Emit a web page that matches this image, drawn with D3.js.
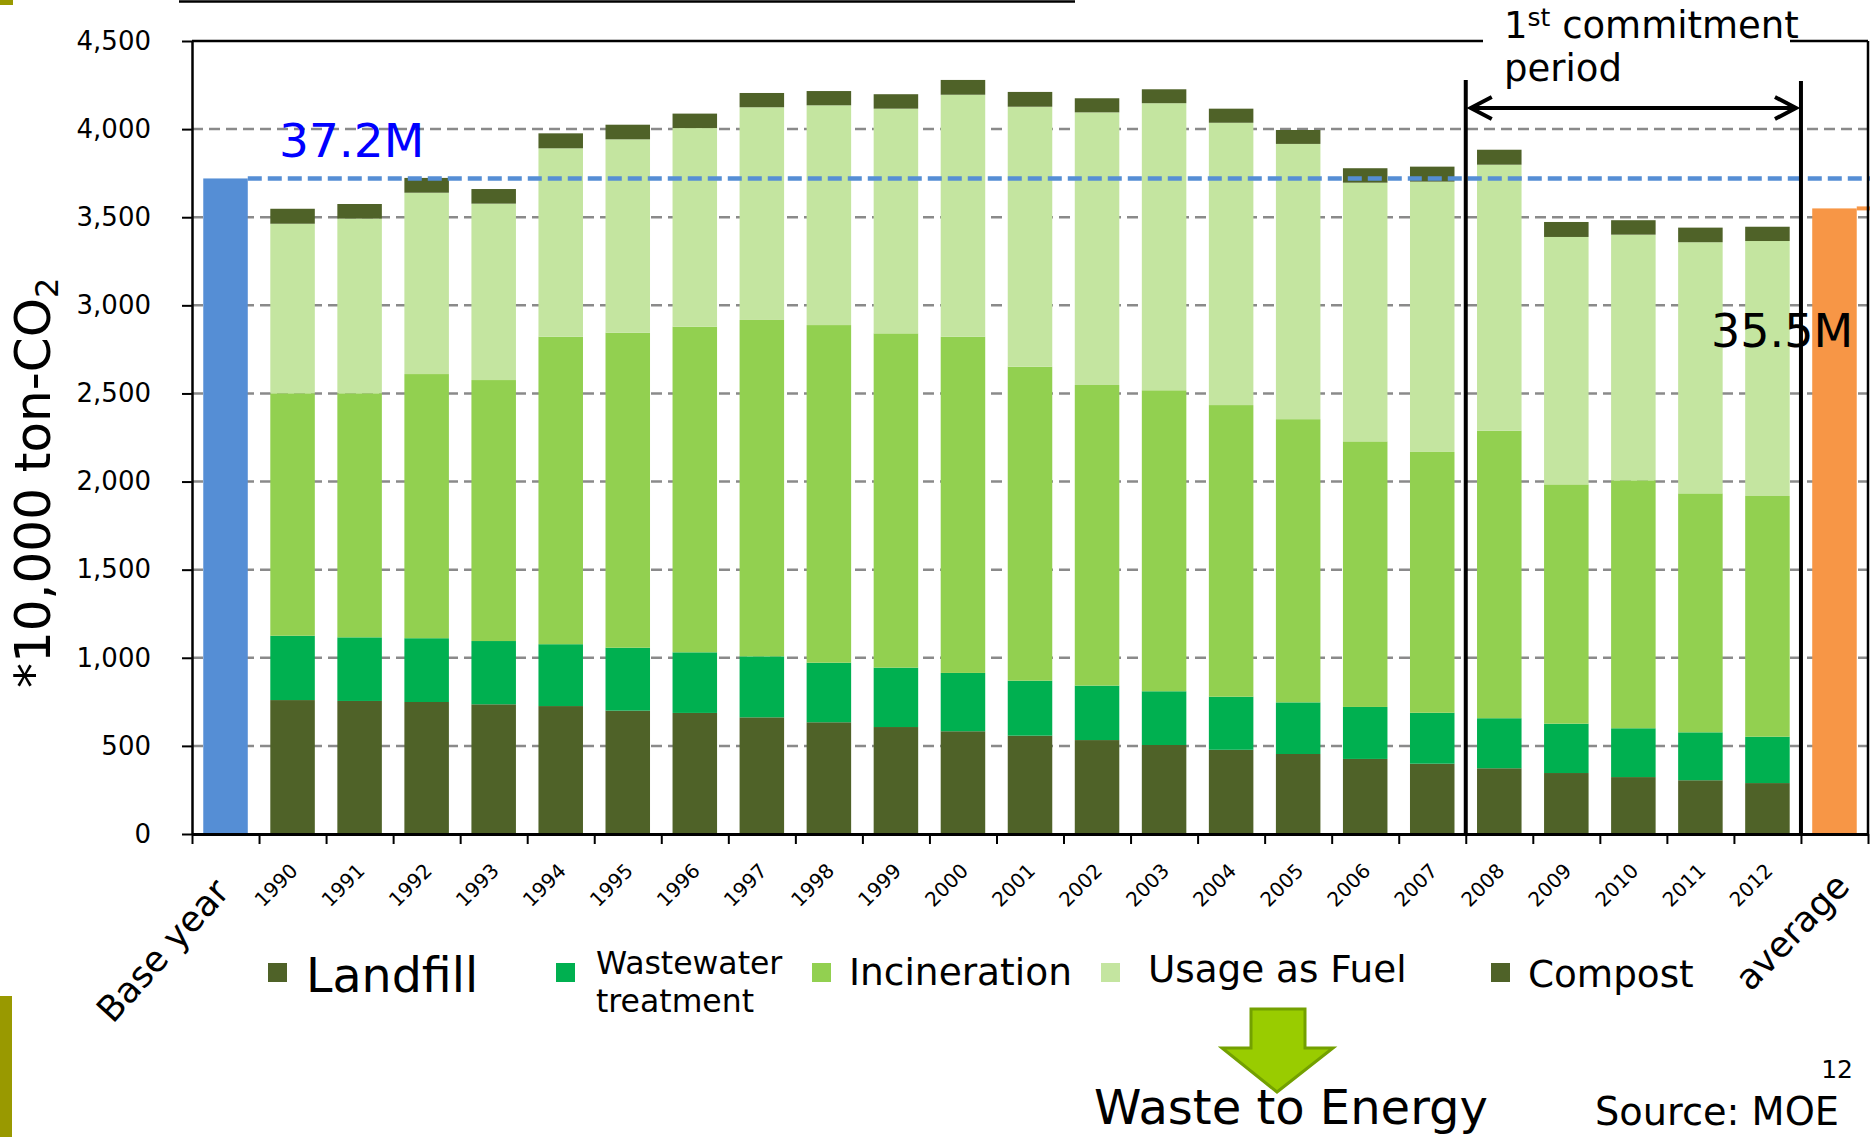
<!DOCTYPE html>
<html>
<head>
<meta charset="utf-8">
<script src="https://cdn.jsdelivr.net/npm/d3@7"></script>
<style>
  html, body { margin: 0; padding: 0; background: #ffffff; }
  svg { display: block; font-family: "DejaVu Sans", Verdana, sans-serif; }
</style>
</head>
<body>
<svg id="chart" width="1870" height="1137"></svg>
<script>
// ---- Data (unit: 10,000 t-CO2) ----
const categories = ["Base year", "1990", "1991", "1992", "1993", "1994", "1995", "1996", "1997", "1998", "1999",
  "2000", "2001", "2002", "2003", "2004", "2005", "2006", "2007", "2008", "2009", "2010", "2011", "2012", "average"];
const years = ["1990", "1991", "1992", "1993", "1994", "1995", "1996", "1997", "1998", "1999",
  "2000", "2001", "2002", "2003", "2004", "2005", "2006", "2007", "2008", "2009", "2010", "2011", "2012"];
const landfill     = [760, 755, 749, 736, 726, 700, 687, 662, 634, 607, 583, 558, 533, 505, 478, 454, 426, 399, 373, 346, 323, 305, 289];
const wastewater   = [365, 361, 362, 359, 351, 357, 344, 346, 338, 337, 331, 312, 309, 305, 301, 293, 295, 289, 284, 280, 277, 272, 263];
const incineration = [1376, 1385, 1499, 1481, 1745, 1788, 1848, 1909, 1916, 1897, 1908, 1782, 1706, 1708, 1655, 1607, 1507, 1480, 1632, 1358, 1407, 1356, 1366];
const usageAsFuel  = [962, 991, 1029, 1001, 1069, 1097, 1127, 1207, 1247, 1275, 1373, 1475, 1547, 1629, 1602, 1562, 1468, 1534, 1509, 1404, 1394, 1425, 1447];
const compost      = [85, 83, 84, 83, 85, 83, 82, 81, 81, 82, 84, 84, 80, 79, 80, 79, 82, 85, 85, 85, 82, 83, 81];
const baseYearTotal = 3720;   // 37.2M t
const periodAverage = 3550;   // 35.5M t, 2008-2012
const yTicks = [0, 500, 1000, 1500, 2000, 2500, 3000, 3500, 4000, 4500];
const seriesNames = ["Landfill", "Wastewater treatment", "Incineration", "Usage as Fuel", "Compost"];
const seriesValues = [landfill, wastewater, incineration, usageAsFuel, compost];

// ---- Styling ----
const seriesColors = ["#4f6228", "#00b050", "#92d050", "#c4e5a0", "#4f6228"];
const baseColor = "#558ed5";
const avgColor = "#f79646";
const FONT = "'DejaVu Sans', Verdana, sans-serif";

const svg = d3.select("#chart");

// slide decorations
svg.append("rect").attr("x", 0).attr("y", 0).attr("width", 13).attr("height", 5).attr("fill", "#999900");
svg.append("rect").attr("x", 0).attr("y", 996).attr("width", 12).attr("height", 141).attr("fill", "#999900");
svg.append("line").attr("x1", 179).attr("x2", 1075).attr("y1", 1.5).attr("y2", 1.5)
  .attr("stroke", "#000").attr("stroke-width", 2.5);

// ---- Scales ----
const x = d3.scaleBand().domain(categories).range([192, 1868]).paddingInner(0.336).paddingOuter(0.168);
const xb = d3.scaleLinear().domain([0, categories.length]).range([192, 1868]);  // category boundaries
const y = d3.scaleLinear().domain([0, 4500]).range([834, 41]);
const bw = x.bandwidth();

// ---- Gridlines ----
svg.append("g").selectAll("line")
  .data(yTicks.filter(v => v > 0 && v < 4500))
  .join("line")
  .attr("x1", 192).attr("x2", 1868)
  .attr("y1", d => y(d)).attr("y2", d => y(d))
  .attr("stroke", "#8a8a8a").attr("stroke-width", 2.5).attr("stroke-dasharray", "11,6");

// ---- Stacked bars ----
const rows = years.map((yr, i) => {
  const r = { year: yr };
  seriesNames.forEach((s, k) => { r[s] = seriesValues[k][i]; });
  return r;
});
const stacked = d3.stack().keys(seriesNames)(rows);

svg.append("g").selectAll("g")
  .data(stacked)
  .join("g")
  .attr("fill", (d, k) => seriesColors[k])
  .selectAll("rect")
  .data(d => d)
  .join("rect")
  .attr("x", d => x(d.data.year))
  .attr("y", d => y(d[1]))
  .attr("width", bw)
  .attr("height", d => y(d[0]) - y(d[1]));

// base year and period-average bars
svg.append("rect")
  .attr("x", x("Base year")).attr("y", y(baseYearTotal))
  .attr("width", bw).attr("height", y(0) - y(baseYearTotal))
  .attr("fill", baseColor);
svg.append("rect")
  .attr("x", x("average")).attr("y", y(periodAverage))
  .attr("width", bw).attr("height", y(0) - y(periodAverage))
  .attr("fill", avgColor);

// reference levels
svg.append("line")
  .attr("x1", x("Base year") + bw).attr("x2", 1870)
  .attr("y1", y(baseYearTotal)).attr("y2", y(baseYearTotal))
  .attr("stroke", baseColor).attr("stroke-width", 4.5).attr("stroke-dasharray", "14,6");
svg.append("line")
  .attr("x1", x("average") + bw).attr("x2", 1870)
  .attr("y1", y(periodAverage)).attr("y2", y(periodAverage))
  .attr("stroke", avgColor).attr("stroke-width", 4).attr("stroke-dasharray", "14,6");

// value labels
svg.append("text")
  .attr("x", 279).attr("y", 157)
  .attr("font-family", FONT).attr("font-size", 47).attr("fill", "#0000ff")
  .text((baseYearTotal / 100).toFixed(1) + "M");
svg.append("text")
  .attr("x", 1711).attr("y", 347)
  .attr("font-family", FONT).attr("font-size", 46).attr("fill", "#000")
  .text((periodAverage / 100).toFixed(1) + "M");

// ---- Axes ----
const yAxis = svg.append("g")
  .attr("transform", "translate(192,0)")
  .call(d3.axisLeft(y).tickValues(yTicks).tickFormat(d3.format(",")).tickSize(10).tickSizeOuter(0).tickPadding(31));
yAxis.select(".domain").attr("stroke", "#000").attr("stroke-width", 2.5);
yAxis.selectAll(".tick line").attr("stroke", "#000").attr("stroke-width", 2);
yAxis.selectAll(".tick text").attr("font-family", FONT).attr("font-size", 26).attr("fill", "#000");

const xAxis = svg.append("g")
  .attr("transform", "translate(0,834)")
  .call(d3.axisBottom(xb).tickValues(d3.range(categories.length + 1)).tickFormat("").tickSize(10).tickSizeOuter(0));
xAxis.select(".domain").attr("stroke", "#000").attr("stroke-width", 3);
xAxis.selectAll(".tick line").attr("stroke", "#000").attr("stroke-width", 2);

// category labels
svg.append("g").selectAll("text")
  .data(years)
  .join("text")
  .attr("transform", d => `translate(${x(d) + bw / 2 + 6.5},872) rotate(-45)`)
  .attr("text-anchor", "end")
  .attr("font-family", FONT).attr("font-size", 20).attr("fill", "#000")
  .text(d => d);
svg.append("text")
  .attr("transform", `translate(${x("Base year") + bw / 2 + 5.5},893) rotate(-48)`)
  .attr("text-anchor", "end")
  .attr("font-family", FONT).attr("font-size", 35.5).attr("fill", "#000")
  .text("Base year");
svg.append("text")
  .attr("transform", `translate(${x("average") + bw / 2 + 17},888) rotate(-46)`)
  .attr("text-anchor", "end")
  .attr("font-family", FONT).attr("font-size", 35.5).attr("fill", "#000")
  .text("average");

// plot frame (top and right)
const frame = svg.append("g").attr("stroke", "#000").attr("stroke-width", 2.5);
frame.append("line").attr("x1", 192).attr("x2", 1483).attr("y1", y(4500)).attr("y2", y(4500));
frame.append("line").attr("x1", 1790).attr("x2", 1868).attr("y1", y(4500)).attr("y2", y(4500));
frame.append("line").attr("x1", 1868).attr("x2", 1868).attr("y1", y(4500)).attr("y2", y(0));

// ---- 1st commitment period ----
const pStart = xb(categories.indexOf("2008"));
const pEnd = xb(categories.indexOf("average"));
const period = svg.append("g").attr("stroke", "#000").attr("fill", "none");
period.append("line").attr("x1", pStart).attr("x2", pStart).attr("y1", 80).attr("y2", y(0)).attr("stroke-width", 4);
period.append("line").attr("x1", pEnd).attr("x2", pEnd).attr("y1", 81).attr("y2", y(0)).attr("stroke-width", 4);
period.append("line").attr("x1", pStart + 5).attr("x2", pEnd - 5).attr("y1", 108).attr("y2", 108).attr("stroke-width", 4);
period.append("polyline").attr("points", `${pStart + 26},97 ${pStart + 5},108 ${pStart + 26},119`).attr("stroke-width", 4);
period.append("polyline").attr("points", `${pEnd - 26},97 ${pEnd - 5},108 ${pEnd - 26},119`).attr("stroke-width", 4);

const pt = svg.append("text").attr("x", 1504).attr("y", 38)
  .attr("font-family", FONT).attr("font-size", 37).attr("fill", "#000");
pt.append("tspan").text("1");
pt.append("tspan").attr("font-size", 25).attr("dy", -12).text("st");
pt.append("tspan").attr("dy", 12).text(" commitment");
svg.append("text").attr("x", 1504).attr("y", 81)
  .attr("font-family", FONT).attr("font-size", 37).attr("fill", "#000")
  .text("period");

// ---- Y-axis title ----
const yt = svg.append("text")
  .attr("transform", "translate(50,688) rotate(-90)")
  .attr("font-family", FONT).attr("font-size", 50).attr("fill", "#000");
yt.append("tspan").text("*10,000 ton-CO");
yt.append("tspan").attr("font-size", 32).attr("dy", 8).text("2");

// ---- Legend ----
const legendItems = [
  { sq: 268, tx: 306, base: 992, size: 47.5, lines: ["Landfill"] },
  { sq: 556, tx: 596, base: 974, size: 31.5, lines: ["Wastewater", "treatment"] },
  { sq: 812, tx: 849, base: 985, size: 37.5, lines: ["Incineration"] },
  { sq: 1101, tx: 1148, base: 982, size: 37.3, lines: ["Usage as Fuel"] },
  { sq: 1491, tx: 1528, base: 987, size: 37.3, lines: ["Compost"] }
];
const lg = svg.append("g");
legendItems.forEach((it, k) => {
  lg.append("rect").attr("x", it.sq).attr("y", 963).attr("width", 19).attr("height", 19)
    .attr("fill", seriesColors[k]);
  const t = lg.append("text").attr("x", it.tx).attr("y", it.base)
    .attr("font-family", FONT).attr("font-size", it.size).attr("fill", "#000");
  it.lines.forEach((ln, j) => {
    t.append("tspan").attr("x", it.tx).attr("dy", j === 0 ? 0 : 38).text(ln);
  });
});

// ---- Waste to Energy arrow and notes ----
svg.append("polygon")
  .attr("points", "1251,1009 1305,1009 1305,1048 1333,1048 1277,1092 1222,1048 1251,1048")
  .attr("fill", "#99cc00").attr("stroke", "#73a000").attr("stroke-width", 3).attr("stroke-linejoin", "miter");
svg.append("text").attr("x", 1094).attr("y", 1124)
  .attr("font-family", FONT).attr("font-size", 48).attr("fill", "#000")
  .text("Waste to Energy");
svg.append("text").attr("x", 1853).attr("y", 1078).attr("text-anchor", "end")
  .attr("font-family", FONT).attr("font-size", 25).attr("fill", "#000")
  .text("12");
svg.append("text").attr("x", 1839).attr("y", 1125).attr("text-anchor", "end")
  .attr("font-family", FONT).attr("font-size", 38.3).attr("fill", "#000")
  .text("Source: MOE");
</script>
</body>
</html>
